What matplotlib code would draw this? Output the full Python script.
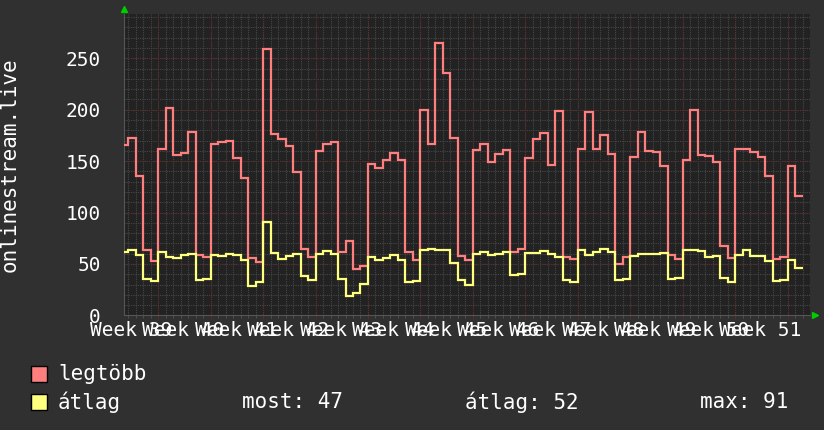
import matplotlib
matplotlib.use("Agg")
import matplotlib.pyplot as plt
import numpy as np

# daily values, first and last entries are partial days
legtobb = [166, 172, 136, 64, 53, 162, 202, 156, 158, 178, 59, 57, 167, 169, 170,
           153, 134, 56, 52, 259, 176, 171, 165, 139, 65, 57, 160, 167, 169, 62,
           72, 45, 48, 147, 143, 151, 158, 151, 62, 54, 200, 167, 265, 236, 172,
           58, 54, 161, 167, 149, 157, 161, 62, 65, 153, 171, 177, 146, 199, 57,
           55, 162, 198, 162, 175, 157, 50, 57, 154, 178, 160, 159, 145, 59, 55,
           151, 200, 156, 155, 149, 67, 56, 162, 162, 159, 154, 136, 55, 57, 145,
           116]
atlag = [62, 64, 59, 35, 33, 62, 57, 56, 59, 60, 34, 35, 59, 58, 60,
         59, 54, 29, 32, 91, 61, 55, 58, 60, 38, 34, 60, 63, 60, 35,
         19, 22, 31, 57, 54, 56, 59, 54, 32, 33, 64, 65, 64, 64, 51,
         34, 30, 60, 62, 59, 60, 62, 39, 40, 61, 61, 63, 60, 57, 34,
         32, 64, 59, 62, 65, 62, 34, 35, 58, 60, 60, 60, 61, 35, 36,
         64, 64, 63, 57, 58, 36, 32, 59, 64, 58, 58, 53, 33, 34, 54,
         46]
week_labels = ["Week 39", "Week 40", "Week 41", "Week 42", "Week 43", "Week 44",
               "Week 45", "Week 46", "Week 47", "Week 48", "Week 49", "Week 50",
               "Week 51"]
stats = ["most: 47", "átlag: 52", "max: 91"]

BG = "#303030"
PLOT_BG = "#222222"
RED = "#ff7f7f"
YEL = "#ffff7f"
FONT = "DejaVu Sans Mono"
MINOR = "#474747"
MAJOR = "#5e2b2b"

edges = np.concatenate([[0], np.arange(0.5, 90.5, 1), [90.6]])

fig = plt.figure(figsize=(8.24, 4.30), dpi=100, facecolor=BG)
ax = fig.add_axes([124.5 / 824, 1 - 315.4 / 430, (810 - 124.5) / 824, (315.4 - 14) / 430])
ax.set_facecolor(PLOT_BG)
ax.set_xlim(0, 91.5)
ax.set_ylim(0, 293)

# grid
for d in np.arange(0.5, 91.5, 1):
    ax.axvline(d, color=MINOR, lw=0.8, ls=(0, (1, 1)), zorder=1)
for v in range(10, 293, 10):
    ax.axhline(v, color=MINOR, lw=0.8, ls=(0, (1, 1)), zorder=1)
for w in np.arange(4.5, 91.5, 7):
    ax.axvline(w, color=MAJOR, lw=0.8, ls=(0, (1, 1)), zorder=1.5)
for v in range(50, 293, 50):
    ax.axhline(v, color=MAJOR, lw=0.8, ls=(0, (1, 1)), zorder=1.5)

ax.stairs(legtobb, edges, baseline=None, color=RED, lw=1.6, zorder=3)
ax.stairs(atlag, edges, baseline=None, color=YEL, lw=1.6, zorder=3)

for s in ["top", "right"]:
    ax.spines[s].set_visible(False)
for s in ["left", "bottom"]:
    ax.spines[s].set_color("#555555")

ax.set_yticks(range(0, 251, 50))
ax.set_yticklabels([str(v) for v in range(0, 251, 50)], fontfamily=FONT,
                   fontsize=14, color="white")
ax.tick_params(axis="y", length=0, pad=17)
ax.set_xticks(np.arange(4.5, 91.5, 7))
ax.set_xticks(np.arange(0.5, 91.5, 1), minor=True)
ax.tick_params(axis="x", which="major", length=3, color=MAJOR, labelbottom=False)
ax.tick_params(axis="x", which="minor", length=2, color="#555555")

for k, lab in enumerate(week_labels):
    ax.text(0.87 + 7 * k, -15, lab, ha="center", va="center", fontfamily=FONT,
            fontsize=14, color="white", clip_on=False)

ax.set_ylabel("onlinestream.live", fontfamily=FONT, fontsize=15, color="white")
ax.yaxis.set_label_coords(-105 / 685.5, 0.5)

# axis arrows
ax.plot([0], [297.5], marker="^", color="#00cc00", markersize=5, clip_on=False, zorder=5)
ax.plot([92.2], [0], marker=">", color="#00cc00", markersize=5, clip_on=False, zorder=5)

# legend
fig.patches.append(plt.Rectangle((31 / 824, 1 - 382 / 430), 16 / 824, 16 / 430,
                                 transform=fig.transFigure, facecolor=RED,
                                 edgecolor="black", lw=1))
fig.patches.append(plt.Rectangle((31 / 824, 1 - 410 / 430), 16 / 824, 16 / 430,
                                 transform=fig.transFigure, facecolor=YEL,
                                 edgecolor="black", lw=1))
fig.text(58 / 824, 1 - 374 / 430, "legtöbb", fontfamily=FONT, fontsize=15,
         color="white", va="center")
fig.text(58 / 824, 1 - 402 / 430, "átlag", fontfamily=FONT, fontsize=15,
         color="white", va="center")
for xpos, s in zip([242, 465, 700], stats):
    fig.text(xpos / 824, 1 - 402 / 430, s, fontfamily=FONT, fontsize=15,
             color="white", va="center")

fig.savefig("out.png", dpi=100, facecolor=BG)
